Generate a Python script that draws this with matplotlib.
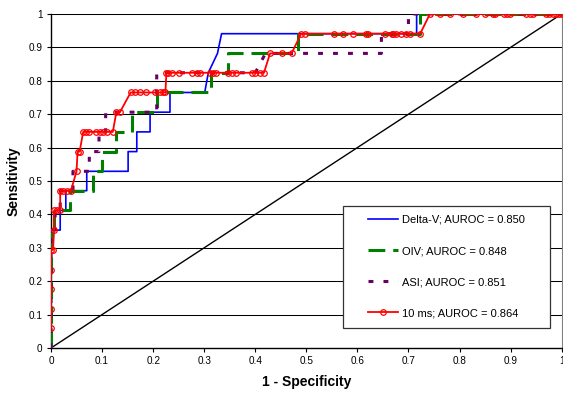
import numpy as np
from matplotlib import pyplot as plt
from matplotlib.patches import Rectangle

plt.rcParams["font.family"] = ["Liberation Sans", "DejaVu Sans"]

# ROC curves (1 - specificity, sensitivity)
deltav_fpr = [0, 0, 0.018, 0.018, 0.029, 0.029, 0.07, 0.07, 0.151, 0.151, 0.168, 0.168, 0.194, 0.194,
              0.233, 0.233, 0.301, 0.308, 0.326, 0.334, 0.716, 0.716, 1]
deltav_tpr = [0, 0.353, 0.353, 0.412, 0.412, 0.471, 0.471, 0.529, 0.529, 0.588, 0.588, 0.647, 0.647, 0.706,
              0.706, 0.765, 0.765, 0.824, 0.882, 0.941, 0.941, 1, 1]

oiv_fpr = [0, 0, 0.005, 0.005, 0.037, 0.037, 0.083, 0.083, 0.1, 0.1, 0.127, 0.127, 0.158, 0.158, 0.207,
           0.207, 0.314, 0.314, 0.347, 0.347, 0.484, 0.484, 0.722, 0.722, 1]
oiv_tpr = [0, 0.353, 0.353, 0.412, 0.412, 0.471, 0.471, 0.529, 0.529, 0.588, 0.588, 0.647, 0.647, 0.706,
           0.706, 0.765, 0.765, 0.824, 0.824, 0.882, 0.882, 0.941, 0.941, 1, 1]

asi_fpr = [0, 0, 0.008, 0.008, 0.018, 0.018, 0.043, 0.043, 0.075, 0.075, 0.094, 0.094, 0.107, 0.107,
           0.207, 0.207, 0.40, 0.42, 0.647, 0.647, 0.70, 0.70, 1]
asi_tpr = [0, 0.353, 0.353, 0.412, 0.412, 0.471, 0.471, 0.529, 0.529, 0.588, 0.588, 0.647, 0.647, 0.706,
           0.706, 0.824, 0.824, 0.882, 0.882, 0.941, 0.941, 1, 1]

ms10_levels = [0.059, 0.118, 0.176, 0.235, 0.294, 0.353, 0.412, 0.471, 0.529, 0.588, 0.647, 0.706,
               0.765, 0.824, 0.882, 0.941, 1.0]
ms10_fpr_by_level = [
    [0], [0], [0], [0], [0, 0.004], [0.006], [0.006, 0.012, 0.018], [0.018, 0.024, 0.031, 0.039],
    [0.050], [0.052, 0.056],
    [0.063, 0.068, 0.075, 0.088, 0.095, 0.102, 0.109, 0.121],
    [0.128, 0.135],
    [0.156, 0.164, 0.174, 0.187, 0.204, 0.213, 0.220, 0.224],
    [0.226, 0.230, 0.236, 0.251, 0.277, 0.285, 0.292, 0.311, 0.318, 0.323, 0.347, 0.354, 0.363,
     0.393, 0.399, 0.409, 0.417],
    [0.429, 0.453, 0.471],
    [0.490, 0.497, 0.554, 0.572, 0.592, 0.616, 0.621, 0.654, 0.667, 0.670, 0.676, 0.686, 0.695,
     0.703, 0.723],
    [0.742, 0.761, 0.781, 0.806, 0.832, 0.849, 0.866, 0.869, 0.888, 0.893, 0.898, 0.931, 0.939,
     0.943, 0.970, 0.976, 0.983, 0.989, 0.995, 1.0],
]
ms10_fpr = [x for xs in ms10_fpr_by_level for x in xs]
ms10_tpr = [lv for lv, xs in zip(ms10_levels, ms10_fpr_by_level) for _ in xs]

labels = ["Delta-V; AUROC = 0.850", "OIV; AUROC = 0.848", "ASI; AUROC = 0.851", "10 ms; AUROC = 0.864"]
ticks = np.round(np.arange(0, 1.01, 0.1), 1)
tick_labels = ["0", "0.1", "0.2", "0.3", "0.4", "0.5", "0.6", "0.7", "0.8", "0.9", "1"]

fig = plt.figure(figsize=(5.63, 3.95), dpi=100)
ax = fig.add_axes([0.0906, 0.119, 0.907, 0.8456])

for t in ticks[1:]:
    ax.axhline(t, color="k", linewidth=0.75, zorder=1)
ax.plot([0, 1], [0, 1], color="k", linewidth=1.0, zorder=2)

ax.plot(deltav_fpr, deltav_tpr, color="#0000FF", linewidth=1.2, label=labels[0], zorder=3)
ax.plot(oiv_fpr, oiv_tpr, color="#008000", linewidth=2.2, dashes=(5.5, 2.6), dash_capstyle="butt",
        label=labels[1], zorder=4)
ax.plot(asi_fpr, asi_tpr, color="#660066", linewidth=2.2, dashes=(1.6, 3.3), dash_capstyle="butt",
        label=labels[2], zorder=5)
ax.plot(ms10_fpr, ms10_tpr, color="#FF0000", linewidth=1.3, marker="o", markersize=4,
        markerfacecolor="none", markeredgecolor="#FF0000", markeredgewidth=0.9, label=labels[3], zorder=6)

ax.set_xlim(0, 1)
ax.set_ylim(0, 1)
ax.set_xticks(ticks)
ax.set_xticklabels(tick_labels)
ax.set_yticks(ticks)
ax.set_yticklabels(tick_labels)
ax.tick_params(axis="both", labelsize=7.2, length=3, width=0.8, pad=3)
ax.spines["top"].set_visible(False)
ax.spines["right"].set_color("#808080")
ax.spines["left"].set_linewidth(1.0)
ax.spines["bottom"].set_linewidth(1.0)

ax.set_xlabel("1 - Specificity", fontsize=10, fontweight="bold", labelpad=6)
ax.set_ylabel("Sensitivity", fontsize=10, fontweight="bold", labelpad=6)

# legend box drawn separately so it can be wider than its content, as in the original
box = Rectangle((0.571, 0.061), 0.407, 0.365, transform=ax.transAxes, facecolor="white",
                edgecolor="#333333", linewidth=0.9, zorder=9)
ax.add_patch(box)
leg = ax.legend(loc="center", bbox_to_anchor=(0.571 + 0.407 / 2, 0.061 + 0.365 / 2), fontsize=8,
                frameon=False, borderpad=0, labelspacing=1.9, handlelength=2.7, handletextpad=0.3,
                borderaxespad=0)
leg.set_zorder(10)

fig.savefig("out.png", dpi=100)
